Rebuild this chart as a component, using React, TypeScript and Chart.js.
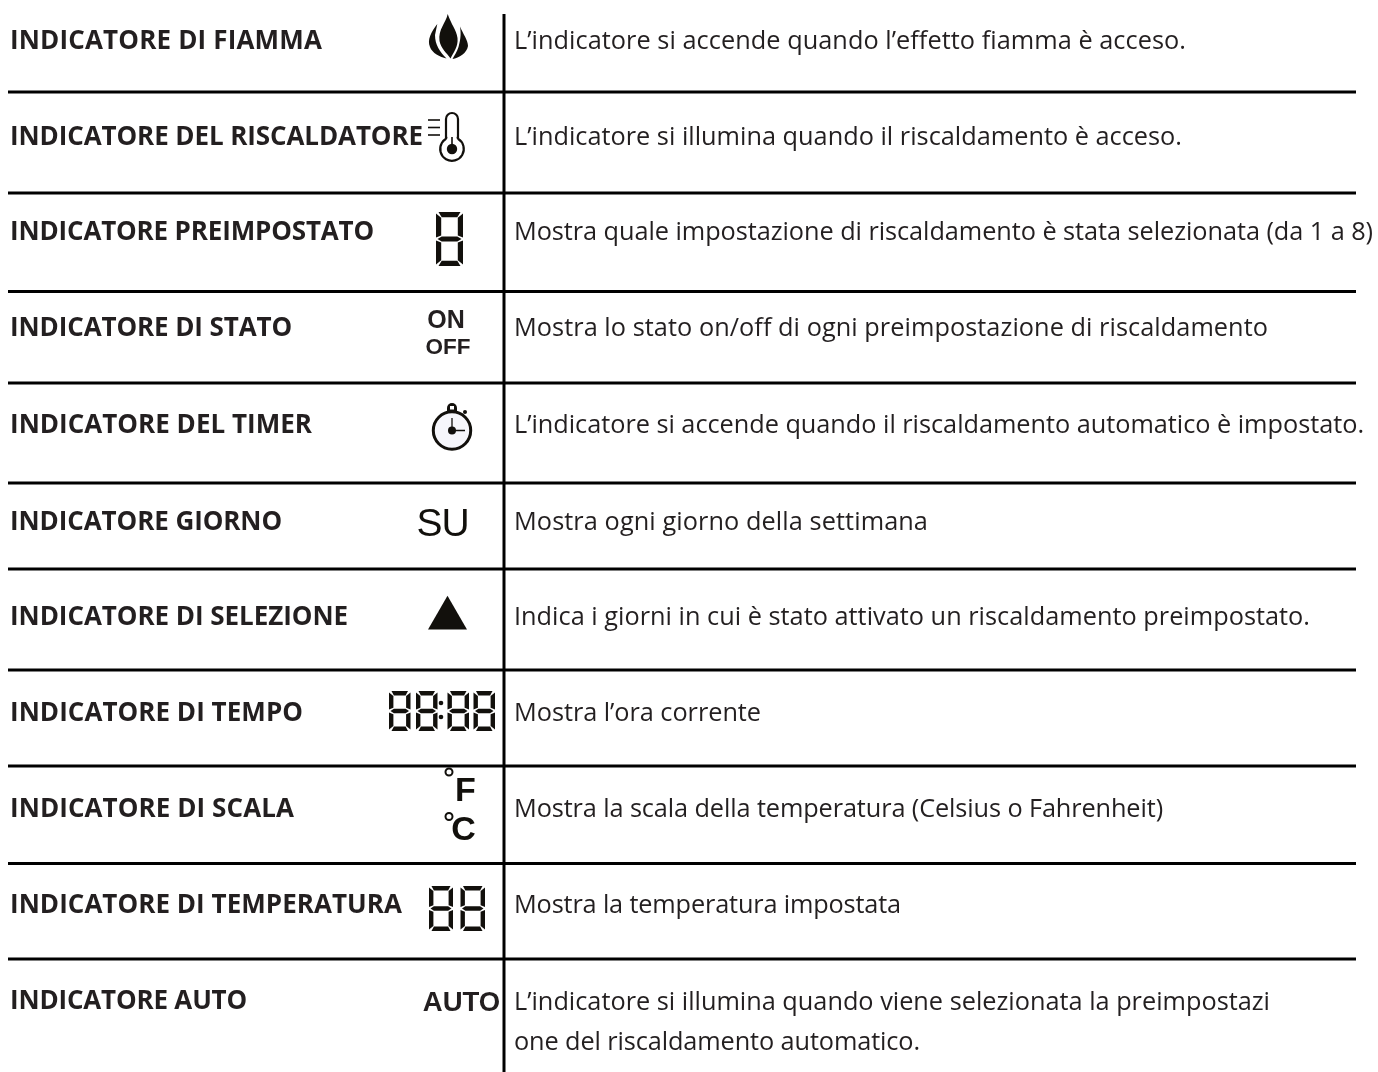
import React, { useEffect, useRef } from "react";
import { Chart, registerables } from "chart.js";

Chart.register(...registerables);

const indicatorNames = [
  "INDICATORE DI FIAMMA",
  "INDICATORE DEL RISCALDATORE",
  "INDICATORE PREIMPOSTATO",
  "INDICATORE DI STATO",
  "INDICATORE DEL TIMER",
  "INDICATORE GIORNO",
  "INDICATORE DI SELEZIONE",
  "INDICATORE DI TEMPO",
  "INDICATORE DI SCALA",
  "INDICATORE DI TEMPERATURA",
  "INDICATORE AUTO",
];

const descriptions = [
  "L’indicatore si accende quando l’effetto fiamma è acceso.",
  "L’indicatore si illumina quando il riscaldamento è acceso.",
  "Mostra quale impostazione di riscaldamento è stata selezionata (da 1 a 8)",
  "Mostra lo stato on/off di ogni preimpostazione di riscaldamento",
  "L’indicatore si accende quando il riscaldamento automatico è impostato.",
  "Mostra ogni giorno della settimana",
  "Indica i giorni in cui è stato attivato un riscaldamento preimpostato.",
  "Mostra l’ora corrente",
  "Mostra la scala della temperatura (Celsius o Fahrenheit)",
  "Mostra la temperatura impostata",
  "L’indicatore si illumina quando viene selezionata la preimpostazi",
  "one del riscaldamento automatico.",
];

const ruleRows = [92, 193, 291.5, 383, 483, 569, 670, 766, 863.5, 959];
const dividerRange = [14, 1072];
const ruleRange = [8, 1356];
const dividerColumn = [504];
const selectionMarker = [{ x: 447.5, y: 618.2 }];

// text placement, kept apart from the content above
const nameBaselines = [48.5, 144.5, 240, 336, 433, 529.5, 625, 721, 817, 913, 1008.5];
const nameWidths = [312, 413, 364, 282, 302, 272, 338, 293, 284, 392, 237];
const descBaselines = [48.5, 145, 240, 336, 433, 530, 625, 721, 817, 913, 1010, 1050];
const descWidths = [672, 668, 859, 754, 850, 414, 796, 247, 649, 387, 756, 406];

const INK = "#231f20";
const BLACK = "#12100c";

type Seg = [number, number, number, number];

function fitText(ctx: CanvasRenderingContext2D, text: string, x: number, y: number, width: number) {
  (ctx as any).letterSpacing = "0px";
  const natural = ctx.measureText(text).width;
  (ctx as any).letterSpacing = `${(width - natural) / text.length}px`;
  ctx.fillText(text, x, y);
  (ctx as any).letterSpacing = "0px";
}

function sevenSeg(ctx: CanvasRenderingContext2D, box: Seg, t: number) {
  const [x0, y0, x1, y1] = box;
  const m = (y0 + y1) / 2;
  const poly = (p: number[][]) => {
    ctx.beginPath();
    p.forEach(([a, b], i) => (i ? ctx.lineTo(a, b) : ctx.moveTo(a, b)));
    ctx.closePath();
    ctx.fill();
  };
  ctx.fillStyle = BLACK;
  const e = 1.5;
  poly([[x0 + e + 1, y0], [x1 - e - 1, y0], [x1 - t - 0.5, y0 + t], [x0 + t + 0.5, y0 + t]]);
  poly([[x0 + e + 1, y1], [x1 - e - 1, y1], [x1 - t - 0.5, y1 - t], [x0 + t + 0.5, y1 - t]]);
  const ht = t / 2;
  poly([
    [x0 + 1.5, m],
    [x0 + t + 0.5, m - ht],
    [x1 - t - 0.5, m - ht],
    [x1 - 1.5, m],
    [x1 - t - 0.5, m + ht],
    [x0 + t + 0.5, m + ht],
  ]);
  const v = (x: number, d: number, ya: number, yb: number, sa: number, sb: number) =>
    poly([
      [x, ya + 1.5],
      [x + d * t, ya + sa],
      [x + d * t, yb - sb],
      [x, yb - 1.5],
    ]);
  v(x0, 1, y0, m, t + 0.5, ht + 1);
  v(x1, -1, y0, m, t + 0.5, ht + 1);
  v(x0, 1, m, y1, ht + 1, t + 0.5);
  v(x1, -1, m, y1, ht + 1, t + 0.5);
}

function drawFlame(ctx: CanvasRenderingContext2D) {
  ctx.fillStyle = BLACK;
  const path = (f: () => void) => {
    ctx.beginPath();
    f();
    ctx.closePath();
    ctx.fill();
  };
  path(() => {
    ctx.moveTo(447.7, 14);
    ctx.bezierCurveTo(446, 23, 438, 29, 439.5, 41);
    ctx.bezierCurveTo(441, 49, 447, 53, 450.5, 58.5);
    ctx.bezierCurveTo(453, 53, 458.5, 47, 457.5, 38);
    ctx.bezierCurveTo(456.5, 30, 451, 24, 447.7, 14);
  });
  path(() => {
    ctx.moveTo(437.3, 24);
    ctx.bezierCurveTo(431, 32, 427, 40, 430, 47);
    ctx.bezierCurveTo(432, 53, 440, 57, 446.5, 58.5);
    ctx.bezierCurveTo(440, 52, 435, 45, 435, 35);
  });
  path(() => {
    ctx.moveTo(460, 26.5);
    ctx.bezierCurveTo(461, 33, 461, 38, 458.5, 47);
    ctx.bezierCurveTo(457, 52, 454, 56, 452.5, 59);
    ctx.bezierCurveTo(459, 58, 467, 53, 468, 46);
    ctx.bezierCurveTo(468, 40, 463, 34, 460, 26.5);
  });
}

function drawThermometer(ctx: CanvasRenderingContext2D) {
  ctx.strokeStyle = BLACK;
  ctx.fillStyle = BLACK;
  ctx.lineWidth = 2.2;
  ctx.beginPath();
  ctx.moveTo(446, 139);
  ctx.lineTo(446, 119);
  ctx.arc(452, 119, 6, Math.PI, 0);
  ctx.lineTo(458, 139);
  ctx.arc(452, 149, 11.8, -Math.PI / 2 + 0.53, -Math.PI / 2 - 0.53 + Math.PI * 2);
  ctx.closePath();
  ctx.stroke();
  ctx.beginPath();
  ctx.arc(452, 149, 5.2, 0, Math.PI * 2);
  ctx.fill();
  ctx.lineWidth = 1.6;
  ctx.beginPath();
  ctx.moveTo(452, 137);
  ctx.lineTo(452, 148);
  ctx.stroke();
  ctx.lineWidth = 1.6;
  [
    [428, 440, 120],
    [428, 440, 127.5],
    [428, 440, 135],
  ].forEach(([a, b, y]) => {
    ctx.beginPath();
    ctx.moveTo(a, y);
    ctx.lineTo(b, y);
    ctx.stroke();
  });
}

function drawStopwatch(ctx: CanvasRenderingContext2D) {
  ctx.strokeStyle = BLACK;
  ctx.fillStyle = BLACK;
  ctx.lineWidth = 3;
  ctx.beginPath();
  ctx.arc(452, 430.5, 18.7, 0, Math.PI * 2);
  ctx.fillStyle = "#f6f6fb";
  ctx.fill();
  ctx.stroke();
  ctx.fillStyle = BLACK;
  ctx.beginPath();
  ctx.moveTo(447, 412);
  ctx.lineTo(447, 408);
  ctx.arc(452, 408, 5, Math.PI, 0);
  ctx.lineTo(457, 412);
  ctx.closePath();
  ctx.fill();
  ctx.fillStyle = "#fff";
  ctx.fillRect(450, 406, 4, 3.5);
  ctx.fillStyle = BLACK;
  ctx.beginPath();
  ctx.arc(465, 412, 2, 0, Math.PI * 2);
  ctx.fill();
  ctx.beginPath();
  ctx.arc(452, 430.5, 4, 0, Math.PI * 2);
  ctx.fill();
  ctx.lineWidth = 1.3;
  ctx.beginPath();
  ctx.moveTo(452, 418);
  ctx.lineTo(452, 430.5);
  ctx.lineTo(465, 430.5);
  ctx.stroke();
}

const tablePlugin = {
  id: "tableText",
  afterDatasetsDraw(chart: Chart) {
    const ctx = chart.ctx;
    ctx.save();
    ctx.textBaseline = "alphabetic";
    ctx.textAlign = "left";
    ctx.fillStyle = INK;
    ctx.font = '700 26px "Open Sans"';
    indicatorNames.forEach((t, i) => fitText(ctx, t, 10, nameBaselines[i], nameWidths[i]));
    ctx.font = '400 25.3px "Open Sans"';
    descriptions.forEach((t, i) => fitText(ctx, t, 514, descBaselines[i], descWidths[i]));

    drawFlame(ctx);
    drawThermometer(ctx);
    sevenSeg(ctx, [436, 212, 463, 266], 5.2);
    drawStopwatch(ctx);
    [[389, 410.5], [416, 437.5], [447.5, 469], [473.5, 495]].forEach(([a, b]) =>
      sevenSeg(ctx, [a, 691, b, 731], 4.4)
    );
    ctx.fillStyle = BLACK;
    [703, 717].forEach((y) => {
      ctx.beginPath();
      ctx.arc(441, y, 2.3, 0, Math.PI * 2);
      ctx.fill();
    });
    [[429, 453], [460.5, 485]].forEach(([a, b]) => sevenSeg(ctx, [a, 886, b, 931], 4.4));

    ctx.fillStyle = INK;
    ctx.textAlign = "center";
    ctx.font = '700 25px "Liberation Sans"';
    ctx.fillText("ON", 446, 328);
    ctx.font = '700 22.5px "Liberation Sans"';
    ctx.fillText("OFF", 448, 354);
    ctx.font = '400 39px "Liberation Sans"';
    ctx.fillStyle = BLACK;
    (ctx as any).letterSpacing = "-1px";
    ctx.fillText("SU", 442.5, 536);
    (ctx as any).letterSpacing = "0px";
    ctx.font = '700 34px "Liberation Sans"';
    ctx.fillText("F", 465.5, 801);
    ctx.fillText("C", 463.5, 840);
    ctx.font = '700 27.5px "Liberation Sans"';
    ctx.fillStyle = INK;
    ctx.fillText("AUTO", 461.5, 1011);
    ctx.strokeStyle = BLACK;
    ctx.lineWidth = 2;
    [772, 816.5].forEach((y) => {
      ctx.beginPath();
      ctx.arc(449, y, 3.5, 0, Math.PI * 2);
      ctx.stroke();
    });
    ctx.restore();
  },
};

export default function App() {
  const ref = useRef<HTMLCanvasElement>(null);
  useEffect(() => {
    document.body.style.margin = "0";
    const lineStyle = {
      showLine: true,
      borderColor: "#000",
      borderWidth: 3,
      pointRadius: 0,
      fill: false,
      clip: false,
    };
    const chart = new Chart(ref.current!, {
      type: "scatter",
      data: {
        datasets: [
          ...ruleRows.map((y) => ({
            ...lineStyle,
            label: "rule",
            data: ruleRange.map((x) => ({ x, y })),
          })),
          {
            ...lineStyle,
            label: "divider",
            data: dividerRange.map((y) => ({ x: dividerColumn[0], y })),
          },
          {
            label: "selection",
            data: selectionMarker,
            pointStyle: "triangle",
            pointRadius: 22.5,
            pointBackgroundColor: BLACK,
            pointBorderWidth: 0,
            showLine: false,
          },
        ],
      },
      options: {
        animation: false,
        responsive: false,
        events: [],
        layout: { padding: 0, autoPadding: false },
        plugins: { legend: { display: false }, tooltip: { enabled: false }, title: { display: false } },
        scales: {
          x: { type: "linear", min: 0, max: 1378, display: false },
          y: { type: "linear", min: 0, max: 1072, reverse: true, display: false },
        },
      },
      plugins: [tablePlugin],
    } as any);
    return () => chart.destroy();
  }, []);
  return (
    <canvas
      ref={ref}
      width={1378}
      height={1072}
      style={{ display: "block", width: 1378, height: 1072, background: "#fff" }}
    />
  );
}
